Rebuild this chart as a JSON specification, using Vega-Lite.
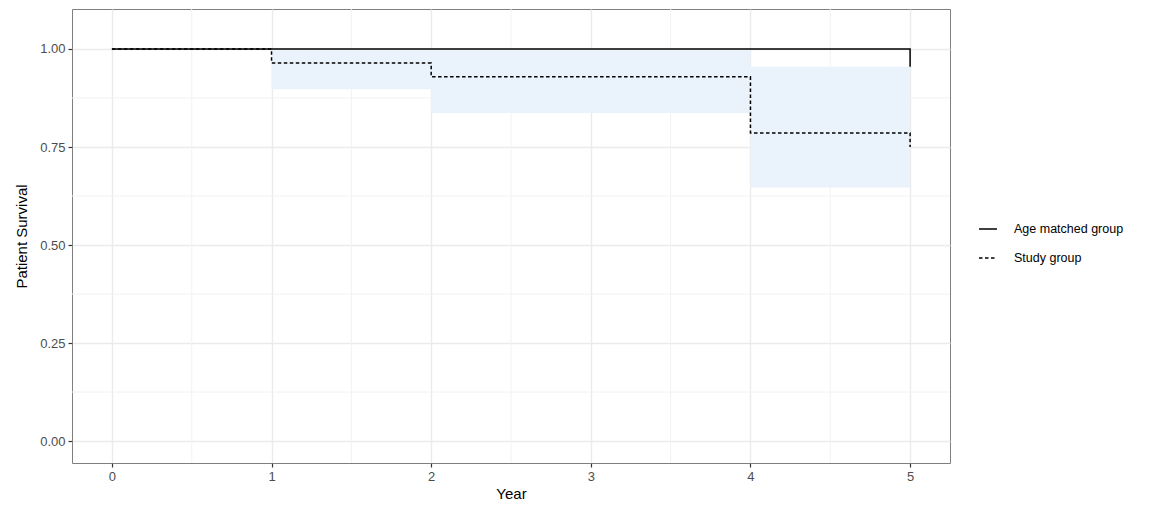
{
  "$schema": "https://vega.github.io/schema/vega-lite/v6.json",
  "width": 878,
  "height": 454,
  "autosize": "none",
  "padding": {"left": 72, "top": 9, "right": 199, "bottom": 47},
  "background": "white",
  "config": {
    "view": {"stroke": "#7F7F7F", "strokeWidth": 1},
    "font": "Liberation Sans",
    "axis": {
      "labelColor": "#4D4D4D", "labelFontSize": 13, "labelFont": "Liberation Sans",
      "titleColor": "#000000", "titleFontSize": 15, "titleFontWeight": "normal", "titleFont": "Liberation Sans",
      "tickColor": "#333333", "tickSize": 4, "tickWidth": 1.2,
      "domain": false, "gridColor": "#EBEBEB", "gridWidth": 1.4, "labelPadding": 3
    }
  },
  "datasets": {
    "surv": [
      {"year": 0, "surv": 1.0, "group": "Age matched group"},
      {"year": 5, "surv": 0.955, "group": "Age matched group"},
      {"year": 0, "surv": 1.0, "group": "Study group"},
      {"year": 1, "surv": 0.964, "group": "Study group"},
      {"year": 2, "surv": 0.929, "group": "Study group"},
      {"year": 4, "surv": 0.786, "group": "Study group"},
      {"year": 5, "surv": 0.75, "group": "Study group"}
    ],
    "ci": [
      {"year": 1, "upper": 1.0, "lower": 0.897},
      {"year": 2, "upper": 1.0, "lower": 0.837},
      {"year": 4, "upper": 0.955, "lower": 0.647},
      {"year": 5, "upper": 0.955, "lower": 0.647}
    ],
    "minorx": [{"v": 0.5}, {"v": 1.5}, {"v": 2.5}, {"v": 3.5}, {"v": 4.5}],
    "minory": [{"v": 0.125}, {"v": 0.375}, {"v": 0.625}, {"v": 0.875}]
  },
  "layer": [
    {
      "data": {"name": "minorx"},
      "mark": {"type": "rule", "color": "#F2F2F2", "strokeWidth": 1},
      "encoding": {
        "x": {"field": "v", "type": "quantitative", "title": "Year",
              "scale": {"domain": [-0.25, 5.25], "nice": false, "zero": false},
              "axis": {"values": [0, 1, 2, 3, 4, 5], "format": "d", "titlePadding": 3}}
      }
    },
    {
      "data": {"name": "minory"},
      "mark": {"type": "rule", "color": "#F2F2F2", "strokeWidth": 1},
      "encoding": {
        "y": {"field": "v", "type": "quantitative", "title": "Patient Survival",
              "scale": {"domain": [-0.056, 1.102], "nice": false, "zero": false},
              "axis": {"values": [0, 0.25, 0.5, 0.75, 1.0], "format": ".2f", "titleFontSize": 15, "titlePadding": 10}}
      }
    },
    {
      "data": {"name": "ci"},
      "mark": {"type": "area", "interpolate": "step-after", "color": "#EAF2FC", "opacity": 1},
      "encoding": {
        "x": {"field": "year", "type": "quantitative", "title": "Year"},
        "y": {"field": "upper", "type": "quantitative", "title": "Patient Survival"},
        "y2": {"field": "lower"}
      }
    },
    {
      "data": {"name": "surv"},
      "mark": {"type": "line", "interpolate": "step-after", "color": "#000000", "strokeWidth": 1.5},
      "encoding": {
        "x": {"field": "year", "type": "quantitative", "title": "Year"},
        "y": {"field": "surv", "type": "quantitative", "title": "Patient Survival"},
        "strokeDash": {
          "field": "group", "type": "nominal",
          "scale": {"domain": ["Age matched group", "Study group"], "range": [[1, 0], [3.5, 2.5]]},
          "legend": {
            "title": null, "orient": "none", "legendX": 906, "legendY": 210,
            "symbolType": "stroke", "symbolSize": 324, "symbolStrokeColor": "#000000",
            "symbolStrokeWidth": 1.5, "labelFontSize": 12.5, "labelColor": "#000000",
            "labelOffset": 16, "rowPadding": 12, "labelFont": "Liberation Sans"
          }
        }
      }
    }
  ]
}
